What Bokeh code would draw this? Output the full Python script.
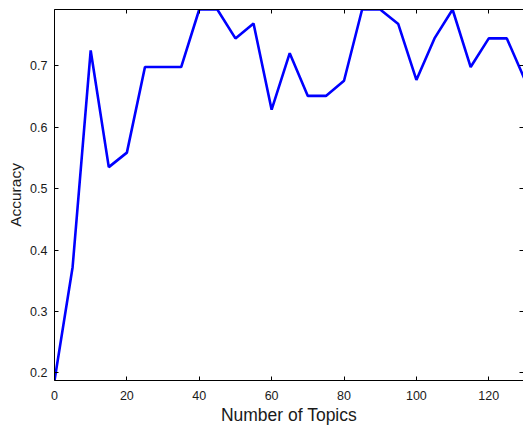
from bokeh.plotting import figure
from bokeh.models import LinearAxis, Range1d, FixedTicker, CustomLabelingPolicy
from bokeh.embed import file_html
from bokeh.resources import INLINE

topics = [0, 5, 10, 15, 20, 25, 30, 35, 40, 45, 50, 55, 60, 65, 70, 75, 80, 85,
          90, 95, 100, 105, 110, 115, 120, 125, 130]
accuracy = [0.1875, 0.372, 0.725, 0.535, 0.5586, 0.698, 0.698, 0.698, 0.7917, 0.7917,
            0.7446, 0.769, 0.6285, 0.7205, 0.651, 0.651, 0.6756, 0.7917,
            0.7917, 0.768, 0.677, 0.7446, 0.7917, 0.698, 0.7446, 0.7446, 0.677]
x_ticks = [0, 20, 40, 60, 80, 100, 120]
y_ticks = [0.2, 0.3, 0.4, 0.5, 0.6, 0.7]

FONT = "Liberation Sans"
TXT = "#1a1a1a"

p = figure(width=523, height=427, output_backend="svg", toolbar_location=None,
           x_range=Range1d(0, 129.6), y_range=Range1d(0.1875, 0.7917),
           min_border_left=54, min_border_right=0, min_border_top=9, min_border_bottom=47,
           x_axis_label="Number of Topics", y_axis_label="Accuracy")
p.outline_line_color = None
p.grid.visible = False
p.background_fill_color = "white"

p.line(topics, accuracy, line_color="#0000ff", line_width=2.6)

no_labels = CustomLabelingPolicy(code="""
    const all = [...indices]
    for (const i of all) { indices.unset(i) }
    return indices
""")

def style(ax, ticks, labels=True):
    ax.ticker = FixedTicker(ticks=ticks)
    ax.axis_line_color = "black"
    ax.axis_line_width = 1
    ax.major_tick_in = 4
    ax.major_tick_out = 0
    ax.major_tick_line_color = "black"
    ax.minor_tick_line_color = None
    ax.major_label_text_font = FONT
    ax.major_label_text_font_size = "12.5px"
    ax.major_label_text_color = TXT
    ax.axis_label_text_font = FONT
    ax.axis_label_text_font_size = "16px"
    ax.axis_label_text_font_style = "normal"
    ax.axis_label_text_color = TXT
    if not labels:
        ax.major_label_text_font_size = "0px"
        ax.major_label_policy = no_labels
        ax.major_label_standoff = 0
        ax.axis_label = None

style(p.xaxis[0], x_ticks)
style(p.yaxis[0], y_ticks)
p.xaxis[0].axis_label_text_font_size = "17.5px"
p.yaxis[0].axis_label_text_font_size = "15.5px"
p.xaxis[0].major_label_standoff = 10
p.xaxis[0].axis_label_standoff = 2
p.yaxis[0].major_label_standoff = 7
p.yaxis[0].axis_label_standoff = 3

top = LinearAxis()
style(top, x_ticks, labels=False)
p.add_layout(top, "above")
right = LinearAxis()
style(right, y_ticks, labels=False)
right.axis_line_color = None
p.add_layout(right, "right")

open("out.html", "w").write(file_html(p, INLINE))
